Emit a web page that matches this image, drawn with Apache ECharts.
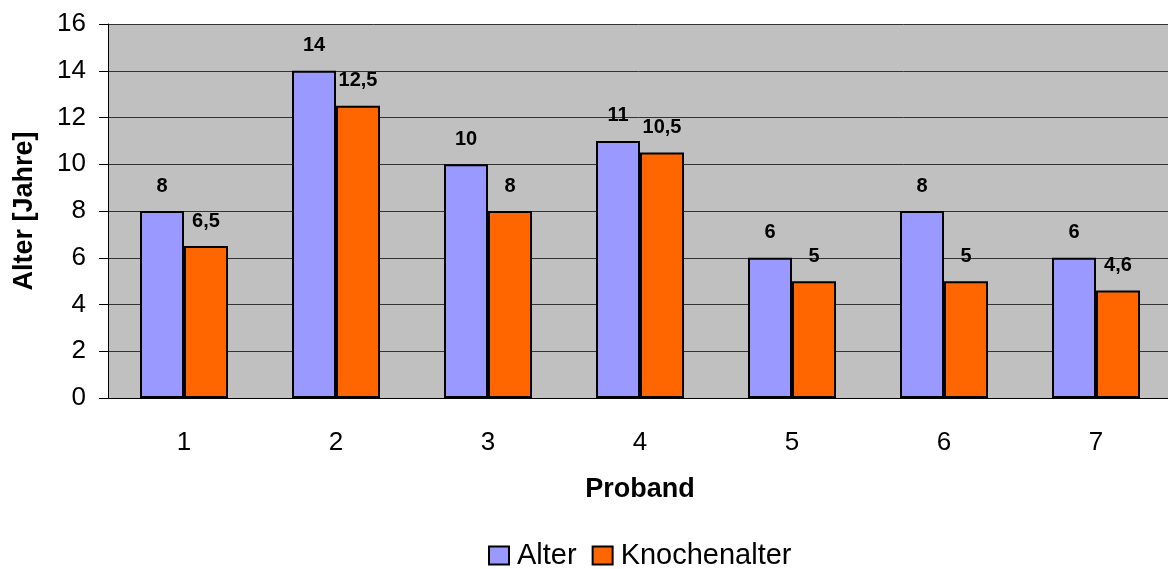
<!DOCTYPE html>
<html>
<head>
<meta charset="utf-8">
<script src="https://cdn.jsdelivr.net/npm/echarts@6/dist/echarts.min.js"></script>
<style>
    html, body { margin: 0; padding: 0; background: #fff; }
    #chart { width: 1168px; height: 569px; }
</style>
</head>
<body>
<div id="chart"></div>
<script>
    // Probanden und Werte
    var probanden = ['1', '2', '3', '4', '5', '6', '7'];
    var alter = [8, 14, 10, 11, 6, 8, 6];
    var knochenalter = [6.5, 12.5, 8, 10.5, 5, 5, 4.6];

    var myChart = echarts.init(document.getElementById('chart'));
    var font = 'Arial, "Liberation Sans", sans-serif';

    function komma(p) {
        return String(p.value).replace('.', ',');
    }

    myChart.setOption({
        animation: false,
        textStyle: { fontFamily: font },
        grid: {
            left: 108,
            right: -4,
            top: 24,
            bottom: 171,
            containLabel: false,
            outerBoundsMode: 'none',
            show: true,
            backgroundColor: '#c0c0c0',
            borderWidth: 0
        },
        legend: {
            top: 541,
            left: 488,
            padding: 0,
            itemWidth: 20,
            itemHeight: 18,
            itemGap: 15,
            icon: 'rect',
            textStyle: { fontSize: 29, color: '#000', fontFamily: font, padding: [0, 0, 0, 3] },
            data: ['Alter', 'Knochenalter']
        },
        xAxis: {
            type: 'category',
            data: probanden,
            name: 'Proband',
            nameLocation: 'middle',
            nameGap: 78,
            nameTextStyle: { fontSize: 27, fontWeight: 'bold', color: '#000', fontFamily: font },
            axisLine: { lineStyle: { color: '#000', width: 1 } },
            axisTick: { length: 8, lineStyle: { color: '#000' } },
            axisLabel: { margin: 32, fontSize: 26, color: '#000', fontFamily: font }
        },
        yAxis: {
            type: 'value',
            min: 0,
            max: 16,
            interval: 2,
            name: 'Alter [Jahre]',
            nameLocation: 'middle',
            nameGap: 70,
            nameRotate: 90,
            nameTextStyle: { fontSize: 27, fontWeight: 'bold', color: '#000', fontFamily: font },
            axisLine: { show: true, lineStyle: { color: '#000', width: 1 } },
            axisTick: { show: true, inside: false, length: 9, lineStyle: { color: '#000' } },
            axisLabel: { margin: 22, fontSize: 26, color: '#000', fontFamily: font },
            splitLine: { lineStyle: { color: '#333', width: 1 } }
        },
        series: [{
            name: 'Alter',
            type: 'bar',
            data: alter,
            barWidth: 44,
            barGap: '0%',
            itemStyle: { color: '#9999ff', borderColor: '#000', borderWidth: 2 },
            label: {
                show: true,
                position: 'top',
                distance: 15,
                fontSize: 20,
                fontWeight: 'bold',
                color: '#000',
                fontFamily: font,
                formatter: komma
            }
        }, {
            name: 'Knochenalter',
            type: 'bar',
            data: knochenalter,
            barWidth: 44,
            barGap: '0%',
            itemStyle: { color: '#ff6600', borderColor: '#000', borderWidth: 2 },
            label: {
                show: true,
                position: 'top',
                distance: 15,
                fontSize: 20,
                fontWeight: 'bold',
                color: '#000',
                fontFamily: font,
                formatter: komma
            }
        }]
    });
</script>
</body>
</html>
